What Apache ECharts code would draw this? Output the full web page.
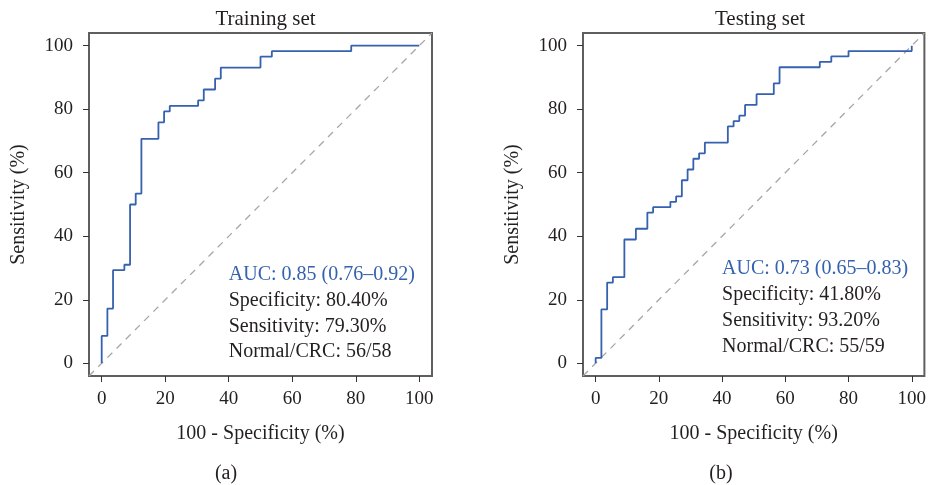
<!DOCTYPE html>
<html><head><meta charset="utf-8">
<script src="https://cdn.jsdelivr.net/npm/echarts@6/dist/echarts.min.js"></script>
<style>html,body{margin:0;padding:0;background:#fff}#c{width:929px;height:485px}</style>
</head><body><div id="c"></div>
<script>
// Training set ROC (x = 100 - specificity %, y = sensitivity %)
const trainX = [0, 0, 1.79, 1.79, 3.57, 3.57, 7.14, 7.14, 8.93, 8.93, 10.71, 10.71, 12.5, 12.5, 17.86, 17.86, 19.64, 19.64, 21.43, 21.43, 30.36, 30.36, 32.14, 32.14, 35.71, 35.71, 37.5, 37.5, 50.0, 50.0, 53.57, 53.57, 78.57, 78.57, 100];
const trainY = [0, 8.62, 8.62, 17.24, 17.24, 29.31, 29.31, 31.03, 31.03, 50.0, 50.0, 53.45, 53.45, 70.69, 70.69, 75.86, 75.86, 79.31, 79.31, 81.03, 81.03, 82.76, 82.76, 86.21, 86.21, 89.66, 89.66, 93.10, 93.10, 96.55, 96.55, 98.28, 98.28, 100, 100];
// Testing set ROC
const testX = [0, 0, 1.82, 1.82, 3.64, 3.64, 5.45, 5.45, 9.09, 9.09, 12.73, 12.73, 16.36, 16.36, 18.18, 18.18, 23.64, 23.64, 25.45, 25.45, 27.27, 27.27, 29.09, 29.09, 30.91, 30.91, 32.73, 32.73, 34.55, 34.55, 41.82, 41.82, 43.64, 43.64, 45.45, 45.45, 47.27, 47.27, 50.91, 50.91, 56.36, 56.36, 58.18, 58.18, 70.91, 70.91, 74.55, 74.55, 80.0, 80.0, 100, 100];
const testY = [0, 1.69, 1.69, 16.95, 16.95, 25.42, 25.42, 27.12, 27.12, 38.98, 38.98, 42.37, 42.37, 47.46, 47.46, 49.15, 49.15, 50.85, 50.85, 52.54, 52.54, 57.63, 57.63, 61.02, 61.02, 64.41, 64.41, 66.10, 66.10, 69.49, 69.49, 74.58, 74.58, 76.27, 76.27, 77.97, 77.97, 81.36, 81.36, 84.75, 84.75, 88.14, 88.14, 93.22, 93.22, 94.92, 94.92, 96.61, 96.61, 98.31, 98.31, 100];
const ticks = [0, 20, 40, 60, 80, 100];
const panelTitles = ['Training set', 'Testing set'];
const panelTags = ['(a)', '(b)'];
const xTitle = '100 - Specificity (%)';
const yTitle = 'Sensitivity (%)';
const trainNotes = ['AUC: 0.85 (0.76–0.92)', 'Specificity: 80.40%', 'Sensitivity: 79.30%', 'Normal/CRC: 56/58'];
const testNotes = ['AUC: 0.73 (0.65–0.83)', 'Specificity: 41.80%', 'Sensitivity: 93.20%', 'Normal/CRC: 55/59'];
const trainNoteY = [27.8, 19.6, 11.5, 3.5];
const testNoteY = [29.8, 21.6, 13.4, 5.2];
const noteX = 40;
const axisMin = -4, axisMax = 104;

const FONT = 'Liberation Serif';
const TXT = '#231f20';
const BLUE = '#3561ae';

const grids = [
  {left: 89, top: 33, width: 343, height: 343},
  {left: 583, top: 33, width: 344, height: 343}
];

function zip(xs, ys){ return xs.map((x,i)=>[x, ys[i]]); }
const plainText = (size) => ({fontFamily: FONT, fontSize: size, fontWeight: 'normal', color: TXT});

const option = {
  animation: false,
  backgroundColor: '#fff',
  textStyle: {fontFamily: FONT},
  title: [0,1].map(i => ({
    text: panelTitles[i], left: grids[i].left + grids[i].width/2, top: 4, textAlign: 'center',
    textStyle: plainText(21)
  })).concat([
    {text: panelTags[0], left: 221, top: 459, textAlign: 'center', textStyle: plainText(20)},
    {text: panelTags[1], left: 716, top: 459, textAlign: 'center', textStyle: plainText(20)}
  ]),
  grid: grids.map(g => Object.assign({show: true, borderColor: '#5f5f5f', borderWidth: 2, backgroundColor: 'transparent'}, g)),
  xAxis: [0,1].map(i => ({
    gridIndex: i, type: 'value', min: axisMin, max: axisMax,
    name: xTitle, nameLocation: 'middle', nameGap: 48,
    nameTextStyle: plainText(20),
    splitLine: {show: false},
    axisLine: {show: false, onZero: false},
    axisTick: {show: true, inside: false, length: 6, customValues: ticks, lineStyle: {color: '#333', width: 1}},
    axisLabel: {customValues: ticks, margin: 14, fontFamily: FONT, fontSize: 19, color: TXT}
  })),
  yAxis: [0,1].map(i => ({
    gridIndex: i, type: 'value', min: axisMin, max: axisMax,
    name: yTitle, nameLocation: 'middle', nameGap: 60,
    nameTextStyle: plainText(20),
    splitLine: {show: false},
    axisLine: {show: false, onZero: false},
    axisTick: {show: true, inside: false, length: 6, customValues: ticks, lineStyle: {color: '#333', width: 1}},
    axisLabel: {customValues: ticks, margin: 16, fontFamily: FONT, fontSize: 19, color: TXT}
  })),
  series: []
};

[[trainX, trainY, trainNotes, trainNoteY], [testX, testY, testNotes, testNoteY]].forEach((p, i) => {
  option.series.push({
    type: 'line', xAxisIndex: i, yAxisIndex: i, data: [[axisMin, axisMin], [axisMax, axisMax]],
    symbol: 'none', silent: true,
    lineStyle: {color: '#a6a6a6', width: 1.3, type: [7, 6]}
  });
  option.series.push({
    type: 'line', xAxisIndex: i, yAxisIndex: i, data: zip(p[0], p[1]),
    symbol: 'none', lineStyle: {color: BLUE, width: 1.8}
  });
  option.series.push({
    type: 'scatter', xAxisIndex: i, yAxisIndex: i, symbolSize: 0,
    itemStyle: {opacity: 1},
    data: p[3].map((y, k) => ({
      value: [noteX, y], name: p[2][k],
      label: {color: k === 0 ? BLUE : TXT}
    })),
    label: {
      show: true, position: 'right', distance: 0,
      formatter: d => d.name,
      fontFamily: FONT, fontSize: 20, opacity: 1
    }
  });
});

const chart = echarts.init(document.getElementById('c'), null, {renderer: 'canvas'});
chart.setOption(option);
</script></body></html>
